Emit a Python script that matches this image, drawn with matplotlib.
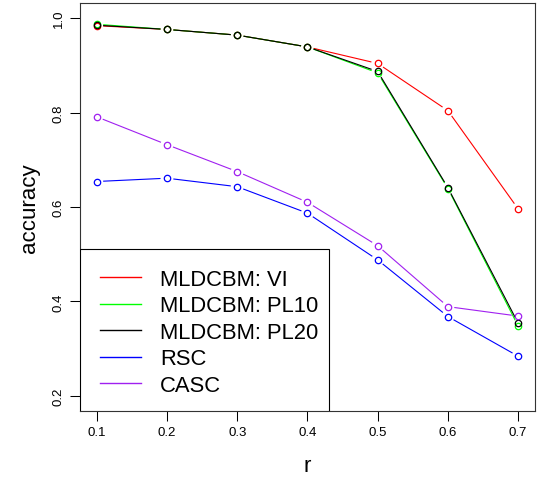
import numpy as np
import matplotlib
matplotlib.use("Agg")
import matplotlib.pyplot as plt
from matplotlib.patches import Rectangle

plt.rcParams['font.family'] = ['Liberation Sans', 'DejaVu Sans']

r = [0.1, 0.2, 0.3, 0.4, 0.5, 0.6, 0.7]
vi = [0.984, 0.976, 0.964, 0.939, 0.904, 0.804, 0.596]
pl10 = [0.987, 0.976, 0.964, 0.939, 0.884, 0.639, 0.348]
pl20 = [0.985, 0.976, 0.964, 0.939, 0.887, 0.641, 0.354]
rsc = [0.654, 0.661, 0.643, 0.587, 0.488, 0.368, 0.284]
casc = [0.791, 0.732, 0.675, 0.610, 0.518, 0.389, 0.369]

labels = ["MLDCBM: VI", "MLDCBM: PL10", "MLDCBM: PL20", "RSC", "CASC"]
colors = ["#FF0000", "#00FF00", "#000000", "#0000FF", "#A020F0"]
series = [vi, pl10, pl20, rsc, casc]

fig = plt.figure(figsize=(5.38, 4.81), dpi=100)
ax = fig.add_axes([80/538, 69/481, 455/538, 408/481])
ax.set_xlim(0.0762, 0.724)
ax.set_ylim(0.168, 1.032)

lw = 0.8
gap = 7.0  # pixels left open around each point, like R type="b"

fig.canvas.draw()
tr = ax.transData
inv = tr.inverted()
handles = []
for ys, c, lab in zip(series, colors, labels):
    pts = tr.transform(np.column_stack([r, ys]))
    for p0, p1 in zip(pts[:-1], pts[1:]):
        d = p1 - p0
        n = np.hypot(*d)
        if n <= 2 * gap:
            continue
        u = d / n
        a = inv.transform(p0 + u * gap)
        b = inv.transform(p1 - u * gap)
        ax.plot([a[0], b[0]], [a[1], b[1]], color=c, lw=lw)
    ax.plot(r, ys, ls='none', marker='o', ms=4.6, mfc='none', mec=c, mew=0.9)
    h, = ax.plot([], [], color=c, lw=1.0, label=lab)
    handles.append(h)

ax.set_xticks(r)
ax.set_xticklabels(["0.1", "0.2", "0.3", "0.4", "0.5", "0.6", "0.7"])
ax.set_yticks([0.2, 0.4, 0.6, 0.8, 1.0])
ax.set_yticklabels(["0.2", "0.4", "0.6", "0.8", "1.0"], rotation=90, va='center')
ax.tick_params(direction='out', length=7, width=0.75, labelsize=9.5, pad=4)
ax.tick_params(axis='y', pad=4)
for s in ax.spines.values():
    s.set_linewidth(0.8)
    s.set_color('#333333')

ax.set_xlabel("r", fontsize=16, labelpad=12)
ax.set_ylabel("accuracy", fontsize=16, labelpad=9)

# legend box drawn by hand (R legend has uneven padding)
box = Rectangle((0, 0), 249/455, 162/408, transform=ax.transAxes,
                facecolor='white', edgecolor='black', lw=0.8, zorder=4)
ax.add_patch(box)
leg = ax.legend(handles=handles, loc='upper left', bbox_to_anchor=(20/455, 142/408),
                fontsize=15.8, frameon=False, borderaxespad=0, borderpad=0,
                handlelength=1.85, handletextpad=0.9, labelspacing=0.25)
leg.set_zorder(5)

fig.savefig("out.png", dpi=100)
